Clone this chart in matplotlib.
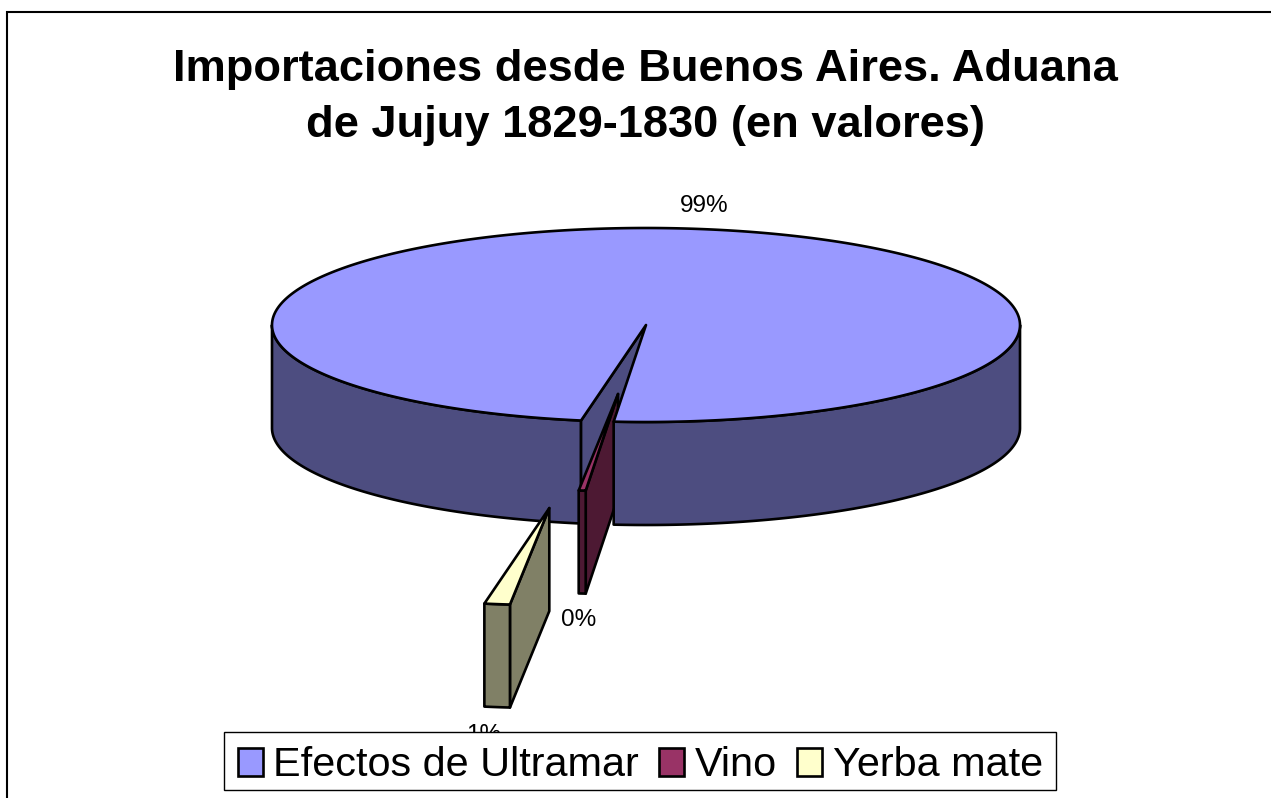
import numpy as np
import matplotlib
matplotlib.use("Agg")
import matplotlib.pyplot as plt
from matplotlib.patches import Polygon, Rectangle, Patch

categories = ["Efectos de Ultramar", "Vino", "Yerba mate"]
shares = [98.6, 0.3, 1.1]
percent_labels = ["99%", "0%", "1%"]
explosion = [0.0, 0.715, 1.905]
explosion_dir = [0.0, 96.0, 97.8]
title = "Importaciones desde Buenos Aires. Aduana\nde Jujuy 1829-1830 (en valores)"

top_colors = ["#9999FF", "#993366", "#FFFFCC"]
side_colors = ["#4D4D80", "#4D1933", "#808066"]

W, H = 1271, 798
CX, CY, RX, RY, DEPTH = 646, 325, 374, 97, 103
START = 100.0
LW = 1.9

fig = plt.figure(figsize=(W / 100, H / 100), dpi=100, facecolor="white")
ax = fig.add_axes([0, 0, 1, 1])
ax.set_xlim(0, W)
ax.set_ylim(H, 0)
ax.axis("off")
plt.rcParams["font.family"] = ["Liberation Sans", "DejaVu Sans"]

ax.add_patch(Rectangle((7, 11.5), W + 50, H + 50, fc="white", ec="black", lw=1.5, zorder=0))


def rim(cx, cy, a, b, n=240):
    t = np.radians(np.linspace(a, b, n))
    return np.column_stack([cx + RX * np.cos(t), cy + RY * np.sin(t)])


# slice geometry computed from the shares
fractions = np.array(shares) / sum(shares)
angles = START + 360 * np.concatenate([[0], np.cumsum(fractions)])
slices = []
for i in range(len(shares)):
    a, b = angles[i], angles[i + 1]
    d = np.radians(explosion_dir[i])
    cx = CX + explosion[i] * RX * np.cos(d)
    cy = CY + explosion[i] * RY * np.sin(d)
    slices.append((a, b, cx, cy))


def draw_top(i, z):
    a, b, cx, cy = slices[i]
    pts = np.vstack([[cx, cy], rim(cx, cy, a, b, 720)])
    ax.add_patch(Polygon(pts, closed=True, fc=top_colors[i], ec="black", lw=LW, zorder=z, joinstyle="round"))


def draw_cut(i, ang, z):
    a, b, cx, cy = slices[i]
    t = np.radians(ang)
    p = [cx + RX * np.cos(t), cy + RY * np.sin(t)]
    pts = [[cx, cy], p, [p[0], p[1] + DEPTH], [cx, cy + DEPTH]]
    ax.add_patch(Polygon(pts, closed=True, fc=side_colors[i], ec="black", lw=LW, zorder=z, joinstyle="round"))


def draw_wall(i, a, b, z):
    _, _, cx, cy = slices[i]
    upper = rim(cx, cy, a, b)
    lower = upper[::-1] + [0, DEPTH]
    ax.add_patch(Polygon(np.vstack([upper, lower]), closed=True, fc=side_colors[i], ec="black", lw=LW, zorder=z, joinstyle="round"))


# main slice: left wall, inner cut face
a0, b0, _, _ = slices[0]
draw_wall(0, a0, 180, 1)
draw_cut(0, a0, 2)

# small wine slice sits inside the gap
a1, b1, _, _ = slices[1]
draw_cut(1, a1, 3)
draw_wall(1, a1, b1, 3.1)
draw_top(1, 3.2)

# main slice: right wall and top surface over it
draw_wall(0, 360, b0, 4)
draw_top(0, 5)

# yerba slice
a2, b2, _, _ = slices[2]
draw_cut(2, a2, 6)
draw_wall(2, a2, b2, 6.1)
draw_top(2, 6.2)

ax.text(645, 97.5, title, ha="center", va="center", fontsize=32.6, fontweight="bold",
        linespacing=1.48, color="black", zorder=10)

label_pos = [(704, 206), (579, 620), (484, 735)]
for txt, (x, y) in zip(percent_labels, label_pos):
    ax.text(x, y, txt, ha="center", va="center", fontsize=17.5, color="black", zorder=7)

ax.add_patch(Rectangle((224, 731.5), 832, 58.5, fc="white", ec="black", lw=1.0, zorder=19))
handles = [Patch(fc=c, ec="black", lw=LW) for c in top_colors]
leg = ax.legend(handles, categories, loc="center", bbox_to_anchor=(640.5, 765.5), bbox_transform=ax.transData,
                fontsize=29.8, frameon=False, ncol=3, handlelength=0.6, handleheight=0.65,
                handletextpad=0.26, columnspacing=0.49, borderpad=0, borderaxespad=0, labelspacing=0)
leg.set_zorder(20)

fig.savefig("out.png", dpi=100)
